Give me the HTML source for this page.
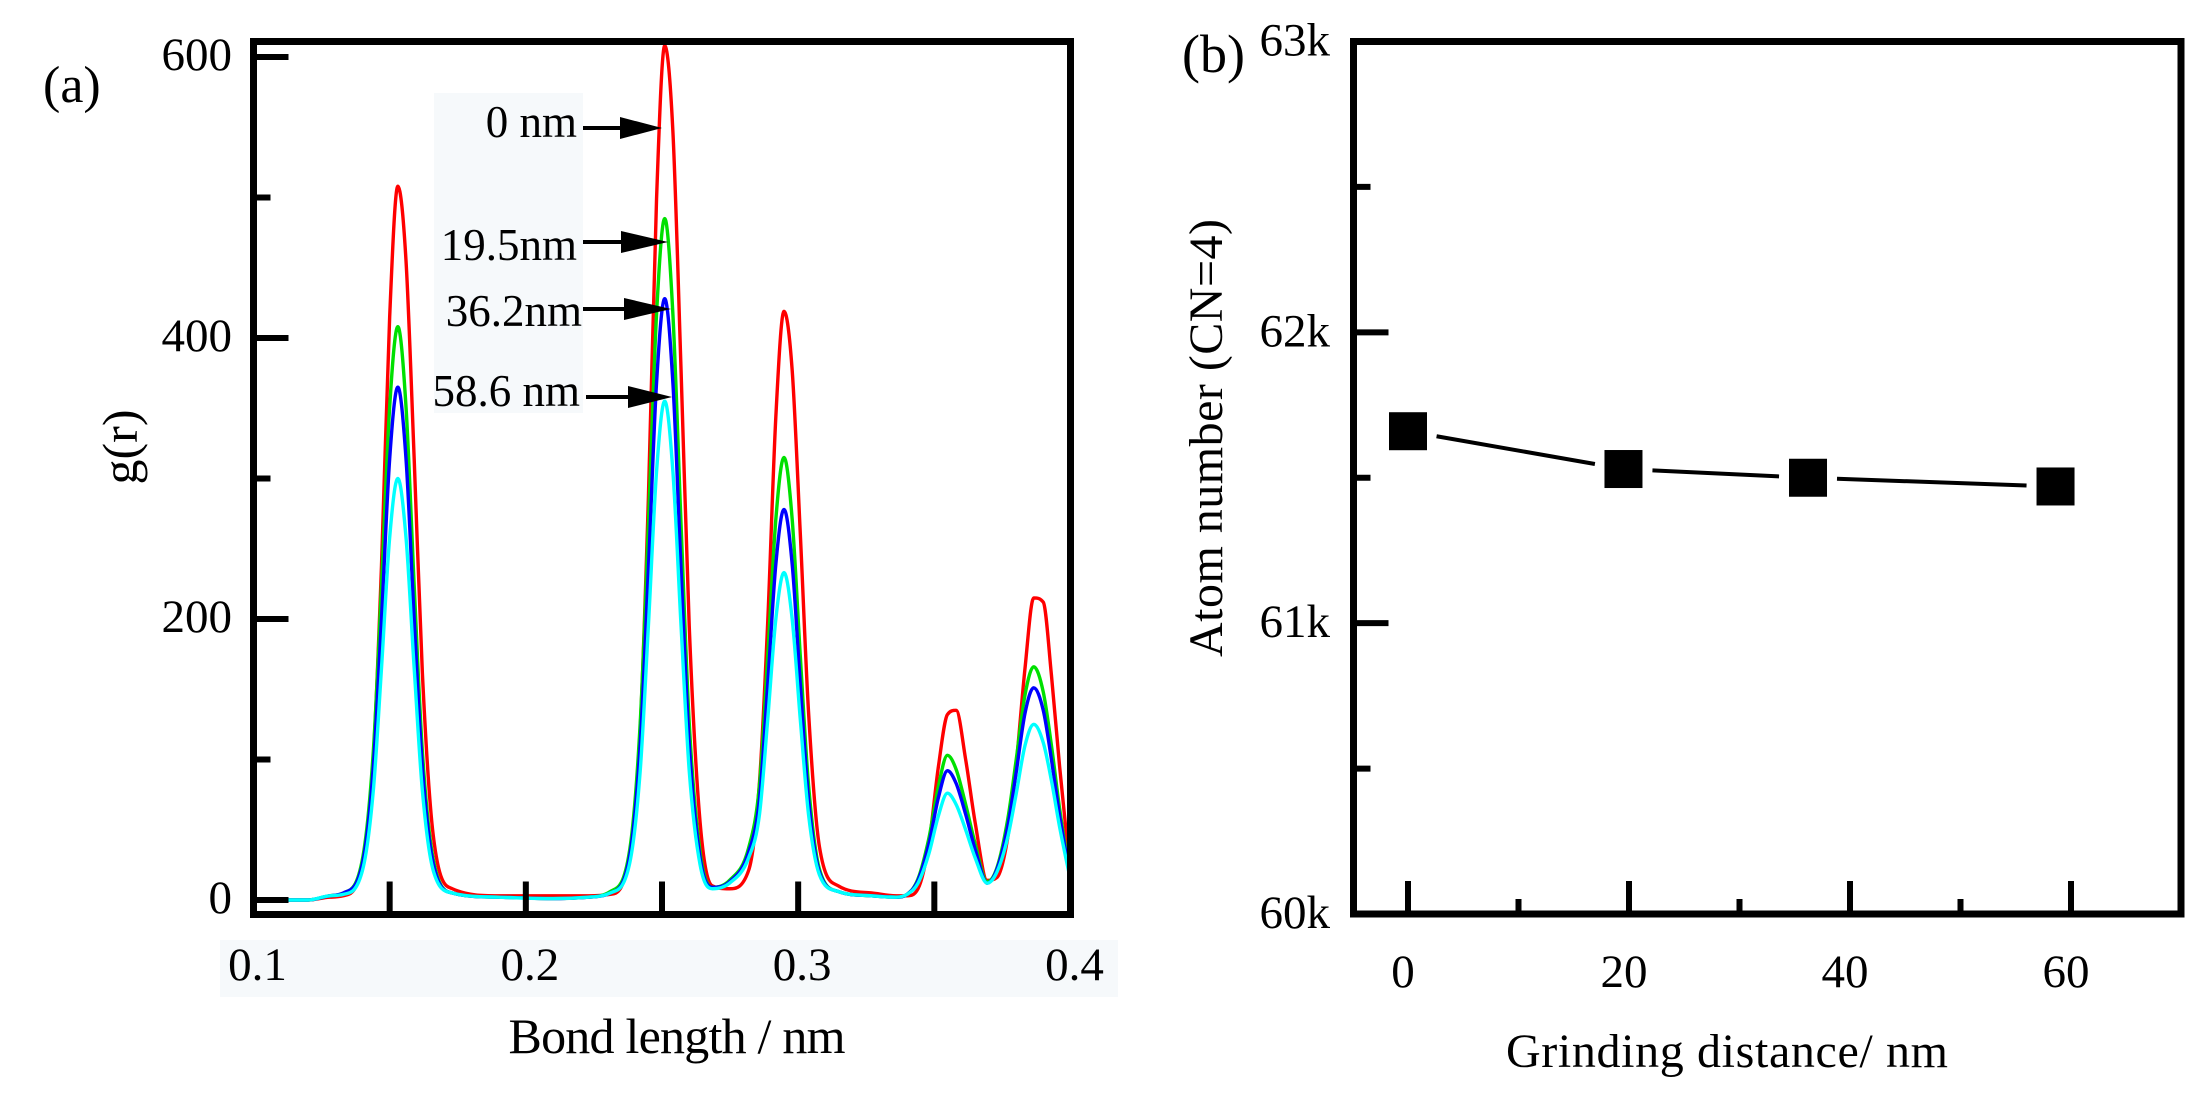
<!DOCTYPE html>
<html><head><meta charset="utf-8"><style>
html,body{margin:0;padding:0;background:#fff;}
svg{display:block;font-family:"Liberation Serif","DejaVu Serif",serif;}
</style></head><body>
<svg id="fig" width="2212" height="1095" viewBox="0 0 2212 1095" xmlns="http://www.w3.org/2000/svg">
<rect x="0" y="0" width="2212" height="1095" fill="#fff"/>
<g id="pa">
  <rect x="220" y="940" width="898" height="57" fill="#f6f9fb"/>
  <rect x="434" y="93" width="149" height="320" fill="#f6f9fb"/>
  <text x="43" y="102" font-size="52">(a)</text>
  <text transform="translate(137,447) rotate(-90)" text-anchor="middle" font-size="50">g(r)</text>
  <text x="677" y="1053" text-anchor="middle" font-size="50" textLength="337">Bond length / nm</text>
  <g id="pa-curves"></g>
  <g id="pa-axes"></g>
  <g font-size="45" text-anchor="end">
    <text x="577" y="137">0 nm</text>
    <text x="577" y="260">19.5nm</text>
    <text x="582" y="326">36.2nm</text>
    <text x="580" y="406">58.6 nm</text>
    <g><line x1="583" y1="128" x2="625" y2="128" stroke="#000" stroke-width="4"/><polygon points="620,117 662,128 620,139" fill="#000"/></g>
    <g><line x1="583" y1="242" x2="625" y2="242" stroke="#000" stroke-width="4"/><polygon points="621,231 668,242 621,253" fill="#000"/></g>
    <g><line x1="583" y1="309" x2="628" y2="309" stroke="#000" stroke-width="4"/><polygon points="624,298 671,309 624,320" fill="#000"/></g>
    <g><line x1="586" y1="397" x2="632" y2="397" stroke="#000" stroke-width="4"/><polygon points="628,386 672,397 628,408" fill="#000"/></g>
  </g>
</g>
<g id="pb">
  <text x="1182" y="72" font-size="54">(b)</text>
  <text transform="translate(1222,438) rotate(-90)" text-anchor="middle" font-size="48" textLength="438">Atom number (CN=4)</text>
  <text x="1727" y="1067" text-anchor="middle" font-size="48" textLength="442">Grinding distance/ nm</text>
  <g id="pb-plot"></g>
  <g id="pb-axes"></g>
</g>
</svg>
<script>
// ---------- Panel (a) data ----------
const rValues = [0.1,0.12,0.128,
 0.133,0.140,0.144,0.147,0.150,0.153,0.156,0.159,0.162,0.166,0.173,
 0.19,0.21,0.223,
 0.231,0.238,0.242,0.245,0.248,0.251,0.254,0.257,0.260,0.264,0.2685,
 0.2748,0.2818,0.2858,0.2888,0.2918,0.2948,0.2978,0.3008,0.3038,0.3078,0.3148,0.327,0.336,
 0.340,0.344,0.348,0.3515,0.3548,0.358,0.3615,0.365,0.3694,
 0.373,0.377,0.380,0.3833,0.3865,0.390,0.393,0.396,0.4];
const gRed = [0,0,2,
 3,25,101,238,415,508,455,314,162,46,8,
 3,3,3,
 4,30,122,286,499,608,547,377,195,55,10,
 8,21,84,197,344,419,377,260,134,38,10,5,3,
 3,8,40,95,132,135,100,55,14,
 16,45,95,165,215,212,160,95,18];
const gGreen = [0,0,3,
 5,29,106,224,351,408,351,224,106,29,5,
 2,1,2,
 6,34,126,267,417,485,417,267,126,34,9,
 14,37,82,173,271,315,271,173,82,22,6,3,2,
 4,15,44,81,103,93,68,40,13,
 23,58,99,146,166,148,110,65,15];
const gBlue = [0,0,3,
 5,26,95,200,314,365,314,200,95,26,5,
 2,1,2,
 5,30,111,235,368,428,368,235,111,30,9,
 13,34,72,153,239,278,239,153,72,20,6,3,2,
 4,14,40,73,92,83,61,36,12,
 22,53,90,133,151,135,100,60,15];
const gCyan = [0,0,3,
 4,21,78,165,258,300,258,165,78,21,5,
 2,1,2,
 5,25,92,195,305,355,305,195,92,25,8,
 12,30,61,128,200,233,200,128,61,18,6,3,2,
 4,12,33,60,76,68,50,30,12,
 20,45,75,110,125,112,85,52,14];
const seriesNames = ["0nm","19-5nm","36-2nm","58-6nm"];
const seriesColors = ["#ff0000","#00e000","#0000ff","#00ffff"];
const aXTicks = [0.1,0.2,0.3,0.4];
const aXTickLabels = ["0.1","0.2","0.3","0.4"];
const aXMinorTicks = [0.15,0.2,0.25,0.3,0.35];
const aYTicks = [0,200,400,600];
const aYTickLabels = ["0","200","400","600"];
const aYMinorTicks = [100,300,500];

// ---------- Panel (b) data ----------
const grindDistance = [0,19.5,36.2,58.6];
const atomNumber = [61.66,61.53,61.50,61.47];
const bXTicks = [0,20,40,60];
const bXTickLabels = ["0","20","40","60"];
const bXMinorTicks = [10,30,50];
const bYTicks = [60,61,62,63];
const bYTickLabels = ["60k","61k","62k","63k"];
const bYMinorTicks = [60.5,61.5,62.5];

const NS="http://www.w3.org/2000/svg";
function mk(tag,parent){const e=document.createElementNS(NS,tag);parent.appendChild(e);return e;}

const aL=253.5,aR=1070.5,aT=41.5,aB=914.5;
const ax=v=>aL+(v-0.1)/(0.3)*(aR-aL);
const ay=v=>900-v*1.405;

function monotonePath(xs,ys){
  const n=xs.length;const d=[],m=[];
  for(let i=0;i<n-1;i++)d.push((ys[i+1]-ys[i])/(xs[i+1]-xs[i]));
  m[0]=d[0];m[n-1]=d[n-2];
  for(let i=1;i<n-1;i++){m[i]=(d[i-1]*d[i]<=0)?0:(d[i-1]+d[i])/2;}
  for(let i=0;i<n-1;i++){if(d[i]===0){m[i]=0;m[i+1]=0;continue;}
    const a=m[i]/d[i],b=m[i+1]/d[i],s=a*a+b*b;if(s>9){const t=3/Math.sqrt(s);m[i]=t*a*d[i];m[i+1]=t*b*d[i];}}
  let p="M"+xs[0].toFixed(2)+","+ys[0].toFixed(2);
  for(let i=0;i<n-1;i++){const h=(xs[i+1]-xs[i])/3;
    p+="C"+(xs[i]+h).toFixed(2)+","+(ys[i]+m[i]*h).toFixed(2)+" "+(xs[i+1]-h).toFixed(2)+","+(ys[i+1]-m[i+1]*h).toFixed(2)+" "+xs[i+1].toFixed(2)+","+ys[i+1].toFixed(2);}
  return p;
}

const curves=document.getElementById('pa-curves');
[gRed,gGreen,gBlue,gCyan].forEach((ser,k)=>{
  const p=mk('path',curves);
  
  
  p.setAttribute('d',monotonePath(rValues.map(ax),ser.map(ay)));
  p.setAttribute('fill','none');p.setAttribute('stroke',seriesColors[k]);
  p.setAttribute('stroke-width','3.4');p.setAttribute('stroke-linejoin','round');
});

const axA=document.getElementById('pa-axes');
let fr=mk('rect',axA);


fr.setAttribute('x',aL);fr.setAttribute('y',aT);fr.setAttribute('width',aR-aL);fr.setAttribute('height',aB-aT);
fr.setAttribute('fill','none');fr.setAttribute('stroke','#000');fr.setAttribute('stroke-width','7');
function tick(parent,x1,y1,x2,y2,name){const l=mk('line',parent);
  
  
  l.setAttribute('x1',x1);l.setAttribute('y1',y1);l.setAttribute('x2',x2);l.setAttribute('y2',y2);
  l.setAttribute('stroke','#000');l.setAttribute('stroke-width','6');}
function label(parent,x,y,txt,anchor,size,name){const t=mk('text',parent);
  
  
  t.setAttribute('x',x);t.setAttribute('y',y);t.setAttribute('text-anchor',anchor);t.setAttribute('font-size',size);t.textContent=txt;}
aYTicks.forEach((v,i)=>{tick(axA,aL,ay(v),aL+35,ay(v),'y-tick-a');label(axA,232,ay(v)+13,aYTickLabels[i],'end',47,'y-tick-label-a');});
aYMinorTicks.forEach(v=>tick(axA,aL,ay(v),aL+17,ay(v),'y-minor-tick-a'));
aXMinorTicks.forEach(v=>tick(axA,ax(v),aB,ax(v),aB-33,'x-tick-a'));
aXTicks.forEach((v,i)=>label(axA,ax(v)+4,980,aXTickLabels[i],'middle',47,'x-tick-label-a'));

const bL=1353.5,bR=2181,bT=41.5,bB=914;
const bx=v=>1408+v*11.05;
const by=v=>bB-(v-60)*(bB-bT)/3;
const axB=document.getElementById('pb-axes');
fr=mk('rect',axB);


fr.setAttribute('x',bL);fr.setAttribute('y',bT);fr.setAttribute('width',bR-bL);fr.setAttribute('height',bB-bT);
fr.setAttribute('fill','none');fr.setAttribute('stroke','#000');fr.setAttribute('stroke-width','7');
bYTicks.forEach((v,i)=>{tick(axB,bL,by(v),bL+35,by(v),'y-tick-b');label(axB,1330,by(v)+14,bYTickLabels[i],'end',47,'y-tick-label-b');});
bYMinorTicks.forEach(v=>tick(axB,bL,by(v),bL+17,by(v),'y-minor-tick-b'));
bXTicks.forEach((v,i)=>{tick(axB,bx(v),bB,bx(v),bB-33,'x-tick-b');label(axB,bx(v)-5,987,bXTickLabels[i],'middle',47,'x-tick-label-b');});
bXMinorTicks.forEach(v=>tick(axB,bx(v),bB,bx(v),bB-15,'x-minor-tick-b'));

const plotB=document.getElementById('pb-plot');
for(let i=0;i<grindDistance.length-1;i++){
  const x1=bx(grindDistance[i]),y1=by(atomNumber[i]),x2=bx(grindDistance[i+1]),y2=by(atomNumber[i+1]);
  const L=Math.hypot(x2-x1,y2-y1),ux=(x2-x1)/L,uy=(y2-y1)/L,g=29;
  const l=mk('line',plotB);
  
  
  l.setAttribute('x1',x1+ux*g);l.setAttribute('y1',y1+uy*g);l.setAttribute('x2',x2-ux*g);l.setAttribute('y2',y2-uy*g);
  l.setAttribute('stroke','#000');l.setAttribute('stroke-width','4');
}
grindDistance.forEach((v,i)=>{
  const r=mk('rect',plotB);
  
  
  r.setAttribute('x',bx(v)-19);r.setAttribute('y',by(atomNumber[i])-19);r.setAttribute('width',38);r.setAttribute('height',38);r.setAttribute('fill','#000');
});
</script>
</body></html>
